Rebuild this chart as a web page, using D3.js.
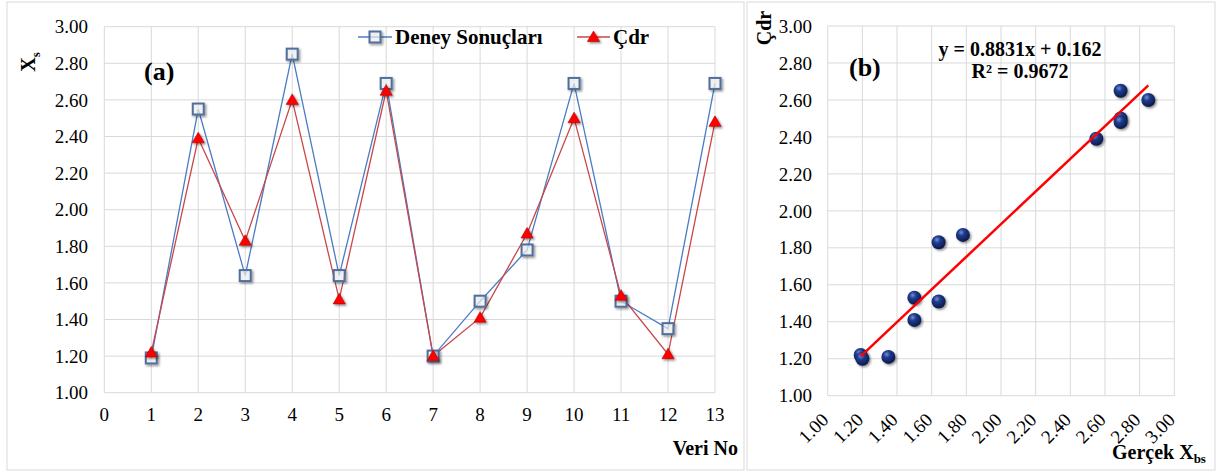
<!DOCTYPE html>
<html>
<head>
<meta charset="utf-8">
<script src="https://cdn.jsdelivr.net/npm/d3@7"></script>
<style>
  body { margin: 0; background: #fff; }
  svg text { font-family: "Liberation Serif", "Times New Roman", Times, "DejaVu Serif", serif; fill: #000; }
  .grid line { stroke: #d9d9d9; stroke-width: 1; }
  .tick-label { font-size: 19px; }
  .bold { font-weight: bold; }
</style>
</head>
<body>
<svg id="chart" width="1220" height="474"></svg>
<script>
// data
const veriNo = [1, 2, 3, 4, 5, 6, 7, 8, 9, 10, 11, 12, 13];
const deney = [1.19, 2.55, 1.64, 2.85, 1.64, 2.69, 1.20, 1.50, 1.78, 2.69, 1.50, 1.35, 2.69];
const cdr = [1.22, 2.39, 1.83, 2.60, 1.51, 2.65, 1.20, 1.41, 1.87, 2.50, 1.53, 1.21, 2.48];
const xTicksA = d3.range(0, 14);
const yTicks = [1.0, 1.2, 1.4, 1.6, 1.8, 2.0, 2.2, 2.4, 2.6, 2.8, 3.0];
const xTicksB = [1.0, 1.2, 1.4, 1.6, 1.8, 2.0, 2.2, 2.4, 2.6, 2.8, 3.0];
const slope = 0.8831, intercept = 0.162;
const eqText = "y = 0.8831x + 0.162";
const r2Text = "R² = 0.9672";

const svg = d3.select("#chart");
const fmt = d3.format(".2f");

// defs: sphere gradient + shadows
const defs = svg.append("defs");
const grad = defs.append("radialGradient").attr("id", "ball")
    .attr("cx", "38%").attr("cy", "32%").attr("r", "70%");
grad.append("stop").attr("offset", "0%").attr("stop-color", "#6f8fd8");
grad.append("stop").attr("offset", "35%").attr("stop-color", "#1f3b8c");
grad.append("stop").attr("offset", "100%").attr("stop-color", "#0a1848");
const sh = defs.append("filter").attr("id", "shadow")
    .attr("x", "-50%").attr("y", "-50%").attr("width", "200%").attr("height", "200%");
sh.append("feDropShadow").attr("dx", 1.5).attr("dy", 1.5).attr("stdDeviation", 1.2)
    .attr("flood-color", "#000").attr("flood-opacity", 0.45);

// panel borders
svg.append("rect").attr("x", 7).attr("y", 2).attr("width", 737).attr("height", 468)
    .attr("fill", "none").attr("stroke", "#d9d9d9");
svg.append("rect").attr("x", 747).attr("y", 2).attr("width", 468).attr("height", 468)
    .attr("fill", "none").attr("stroke", "#d9d9d9");

// ---------- chart (a) ----------
const xA = d3.scaleLinear().domain([0, 13]).range([104.3, 715]);
const yA = d3.scaleLinear().domain([1, 3]).range([392.7, 26.7]);
const gA = svg.append("g");

const gridA = gA.append("g").attr("class", "grid");
gridA.selectAll(".v").data(xTicksA).enter().append("line")
    .attr("x1", d => xA(d)).attr("x2", d => xA(d))
    .attr("y1", yA(1)).attr("y2", yA(3));
gridA.selectAll(".h").data(yTicks).enter().append("line")
    .attr("x1", xA(0)).attr("x2", xA(13))
    .attr("y1", d => yA(d)).attr("y2", d => yA(d));

gA.selectAll(".ylab").data(yTicks).enter().append("text")
    .attr("class", "tick-label")
    .attr("x", 88).attr("y", d => yA(d)).attr("dy", "0.35em")
    .attr("text-anchor", "end").text(d => fmt(d));
gA.selectAll(".xlab").data(xTicksA).enter().append("text")
    .attr("class", "tick-label")
    .attr("x", d => xA(d)).attr("y", 421)
    .attr("text-anchor", "middle").text(d => d);

const lineA = (vals) => d3.line().x((d, i) => xA(veriNo[i])).y(d => yA(d))(vals);
gA.append("path").attr("d", lineA(deney)).attr("fill", "none")
    .attr("stroke", "#4a7cc4").attr("stroke-width", 1.3);
gA.append("path").attr("d", lineA(cdr)).attr("fill", "none")
    .attr("stroke", "#c8474a").attr("stroke-width", 1.3);

const tri = d3.symbol().type(d3.symbolTriangle).size(64);
function square(sel, x, y) {
    sel.append("rect").attr("x", x - 5.5).attr("y", y - 5.5)
        .attr("width", 11).attr("height", 11)
        .attr("fill", "#fff").attr("fill-opacity", 0.6)
        .attr("stroke", "#4f6f9d").attr("stroke-width", 2)
        .attr("filter", "url(#shadow)");
}
function triangle(sel, x, y) {
    sel.append("path").attr("d", tri())
        .attr("transform", `translate(${x},${y + 1})`)
        .attr("fill", "#ff0000").attr("stroke", "#b00000").attr("stroke-width", 0.6)
        .attr("filter", "url(#shadow)");
}
deney.forEach((d, i) => square(gA, xA(veriNo[i]), yA(d)));
cdr.forEach((d, i) => triangle(gA, xA(veriNo[i]), yA(d)));

// legend
const leg = gA.append("g");
leg.append("line").attr("x1", 358).attr("x2", 392).attr("y1", 37).attr("y2", 37)
    .attr("stroke", "#4a7cc4").attr("stroke-width", 1.3);
square(leg, 375, 37);
leg.append("text").attr("class", "bold").attr("x", 395).attr("y", 37).attr("dy", "0.35em")
    .style("font-size", "21px").text("Deney Sonuçları");
leg.append("line").attr("x1", 577).attr("x2", 610).attr("y1", 37).attr("y2", 37)
    .attr("stroke", "#c8474a").attr("stroke-width", 1.3);
triangle(leg, 593.5, 37);
leg.append("text").attr("class", "bold").attr("x", 613).attr("y", 37).attr("dy", "0.35em")
    .style("font-size", "21px").text("Çdr");

gA.append("text").attr("class", "bold").attr("x", 144).attr("y", 80)
    .style("font-size", "26px").text("(a)");
const yTitleA = gA.append("text").attr("class", "bold")
    .attr("transform", "translate(35,62) rotate(-90)")
    .attr("text-anchor", "middle").style("font-size", "20px");
yTitleA.append("tspan").text("X");
yTitleA.append("tspan").attr("dy", 5).style("font-size", "13px").text("s");
gA.append("text").attr("class", "bold").attr("x", 738).attr("y", 455)
    .attr("text-anchor", "end").style("font-size", "20px").text("Veri No");

// ---------- chart (b) ----------
const xB = d3.scaleLinear().domain([1, 3]).range([827.7, 1174.3]);
const yB = d3.scaleLinear().domain([1, 3]).range([395.7, 26]);
const gB = svg.append("g");

const gridB = gB.append("g").attr("class", "grid");
gridB.selectAll(".v").data(xTicksB).enter().append("line")
    .attr("x1", d => xB(d)).attr("x2", d => xB(d))
    .attr("y1", yB(1)).attr("y2", yB(3));
gridB.selectAll(".h").data(yTicks).enter().append("line")
    .attr("x1", xB(1)).attr("x2", xB(3))
    .attr("y1", d => yB(d)).attr("y2", d => yB(d));

gB.selectAll(".ylab").data(yTicks).enter().append("text")
    .attr("class", "tick-label")
    .attr("x", 812).attr("y", d => yB(d)).attr("dy", "0.35em")
    .attr("text-anchor", "end").text(d => fmt(d));
gB.selectAll(".xlab").data(xTicksB).enter().append("text")
    .attr("class", "tick-label")
    .attr("transform", d => `translate(${xB(d) + 2},${421}) rotate(-45)`)
    .attr("text-anchor", "end").text(d => fmt(d));

// points and trendline
const xMin = d3.min(deney), xMax = d3.max(deney);
gB.selectAll(".pt").data(deney).enter().append("circle")
    .attr("cx", d => xB(d)).attr("cy", (d, i) => yB(cdr[i]))
    .attr("r", 7).attr("fill", "url(#ball)").attr("filter", "url(#shadow)");
gB.append("line")
    .attr("x1", xB(xMin)).attr("y1", yB(slope * xMin + intercept))
    .attr("x2", xB(xMax)).attr("y2", yB(slope * xMax + intercept))
    .attr("stroke", "#ff0000").attr("stroke-width", 2.5);

gB.append("text").attr("class", "bold").attr("x", 849).attr("y", 76)
    .style("font-size", "26px").text("(b)");
gB.append("text").attr("class", "bold").attr("x", 1020).attr("y", 56)
    .attr("text-anchor", "middle").style("font-size", "20px").text(eqText);
gB.append("text").attr("class", "bold").attr("x", 1020).attr("y", 78)
    .attr("text-anchor", "middle").style("font-size", "20px").text(r2Text);
gB.append("text").attr("class", "bold")
    .attr("transform", "translate(771,28) rotate(-90)")
    .attr("text-anchor", "middle").style("font-size", "20px").text("Çdr");
const xTitleB = gB.append("text").attr("class", "bold").attr("x", 1112).attr("y", 459)
    .style("font-size", "20px");
xTitleB.append("tspan").text("Gerçek X");
xTitleB.append("tspan").attr("dy", 4).style("font-size", "13px").text("bs");
</script>
</body>
</html>
